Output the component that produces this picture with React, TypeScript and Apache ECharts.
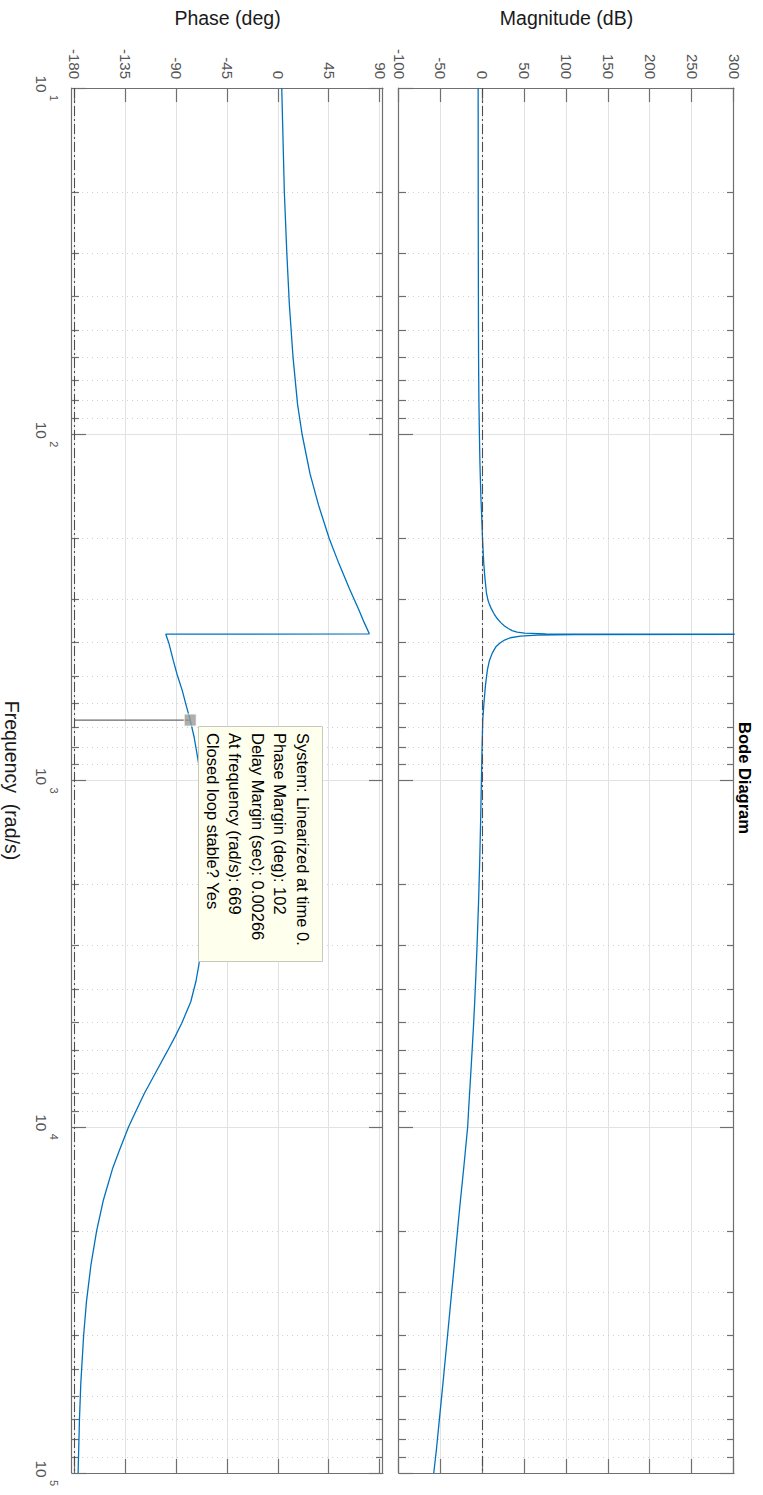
import React, { useEffect, useRef } from "react";
import * as echarts from "echarts";

// ---- data -----------------------------------------------------------------
const magFreq = [
  10, 20, 30, 40, 50, 60, 70, 80, 100, 120, 150, 172, 200, 236, 260, 287, 300,
  310, 320, 330, 340, 350, 358, 364, 369, 373, 375.5, 377, 378, 379, 380.5,
  383, 387, 393, 400, 410, 428, 450, 480, 532, 600, 669, 800, 1000, 1300,
  1700, 2244, 3000, 3600, 4355, 5200, 6200, 7500, 8700, 10000, 13000, 16360,
  20000, 25000, 32000, 40000, 55000, 70500, 85000, 100000,
];
const magDb = [
  -5.5, -5.4, -5.3, -5.2, -5.1, -5.0, -4.8, -4.6, -4.0, -3.4, -2.3, -1.3,
  -0.3, 1.2, 2.6, 4.4, 6.0, 8.0, 10.5, 13.5, 17, 21.5, 26, 30.5, 35, 41, 50,
  75, 330, 110, 65, 45, 33, 26, 21, 16, 11.5, 8, 5.5, 3.2, 1.4, 0, -0.8, -1.6,
  -2.5, -3.6, -5.0, -6.8, -8.1, -9.6, -11.2, -13.0, -15.0, -16.6, -18.0,
  -22.5, -26.7, -30.2, -33.9, -38.2, -42.0, -47.5, -51.9, -55.2, -58.5,
];

const phaseFreq = [
  10, 20, 30, 42, 60, 82, 100, 130, 160, 200, 236, 280, 320, 350, 377, 378,
  400, 450, 494, 550, 600, 669, 750, 887, 1100, 1400, 1800, 2300, 3040, 3400,
  3800, 4355, 5024, 5500, 6030, 7020, 8000, 9000, 10000, 11730, 13150, 16360,
  20000, 25000, 32000, 40000, 55000, 70000, 100000,
];
const phaseDeg = [
  3, 5.3, 7.5, 9.7, 13, 17, 21, 28, 35.5, 45, 53.5, 63, 71, 76, 80.5,
  -99.6, -97, -93, -89.6, -85, -82, -78, -74.5, -70.7, -67.5, -65.5, -65,
  -66, -68.5, -70.3, -72.9, -77.5, -85.5, -91.5, -98, -109, -118.5, -126,
  -132.5, -140.8, -146.5, -155, -160.8, -165.8, -169.8, -172.3, -174.8, -176,
  -177.2,
];

const freqRange = [10, 100000];
const magRange = [-100, 300];
const phaseRange = [-182.6, 92.6];

const decadeTicks = [10, 100, 1000, 10000, 100000];
const minorFreqTicks = [
  20, 30, 40, 50, 60, 70, 80, 90,
  200, 300, 400, 500, 600, 700, 800, 900,
  2000, 3000, 4000, 5000, 6000, 7000, 8000, 9000,
  20000, 30000, 40000, 50000, 60000, 70000, 80000, 90000,
];
const magTicks = [-100, -50, 0, 50, 100, 150, 200, 250, 300];
const phaseTicks = [-180, -135, -90, -45, 0, 45, 90];

const unityGainDb = [0];
const criticalPhase = [-180];

// stability margin read-out
const marginFrequency = 669;
const phaseMarginDeg = 102;
const delayMarginSec = 0.00266;
const systemName = "Linearized at time 0.";
const closedLoopStable = "Yes";

// ---- styling --------------------------------------------------------------
const FONT = "'Liberation Sans', Arial, Helvetica, sans-serif";
const BOX = "#6f6f6f";
const GRID_MAJOR = "#e2e2e2";
const GRID_MINOR = "#d0d0d0";
const LINE_BLUE = "#0072bd";
const TICK_TEXT = "#555555";

const zip = (xs: number[], ys: number[]) => xs.map((x, i) => [x, ys[i]]);

function freqAxis(
  gridIndex: number,
  position: "top" | "bottom",
  ticks: number[],
  tickLen: number,
  showLine: boolean,
  split: any,
  label: any = { show: false },
  nameOpts: any = {}
) {
  return {
    type: "log",
    logBase: 10,
    gridIndex,
    position,
    min: freqRange[0],
    max: freqRange[1],
    axisLine: { show: showLine, onZero: false, lineStyle: { color: BOX, width: 1.2 } },
    axisTick: {
      show: true,
      inside: true,
      length: tickLen,
      customValues: ticks,
      lineStyle: { color: BOX, width: 1.2 },
    },
    axisLabel: label,
    splitLine: split,
    minorTick: { show: false },
    minorSplitLine: { show: false },
    ...nameOpts,
  };
}

function valueAxis(
  gridIndex: number,
  position: "left" | "right",
  range: number[],
  ticks: number[],
  withLabels: boolean,
  name: string
) {
  return {
    type: "value",
    gridIndex,
    position,
    min: range[0],
    max: range[1],
    name: withLabels ? name : "",
    nameLocation: "middle",
    nameRotate: 90,
    nameGap: 60,
    nameTextStyle: { fontFamily: FONT, fontSize: 19.5, color: "#1a1a1a" },
    axisLine: { show: true, onZero: false, lineStyle: { color: BOX, width: 1.2 } },
    axisTick: {
      show: true,
      inside: true,
      length: 14,
      customValues: ticks,
      lineStyle: { color: BOX, width: 1.2 },
    },
    axisLabel: withLabels
      ? {
          show: true,
          customValues: ticks,
          margin: 9,
          fontFamily: FONT,
          fontSize: 15,
          color: TICK_TEXT,
          showMinLabel: true,
          showMaxLabel: true,
          hideOverlap: false,
        }
      : { show: false },
    splitLine: withLabels
      ? { show: true, lineStyle: { color: GRID_MAJOR, width: 1 } }
      : { show: false },
  };
}

const majorSplit = { show: true, lineStyle: { color: GRID_MAJOR, width: 1 } };
const minorSplit = { show: true, lineStyle: { color: GRID_MINOR, width: 1, type: [1, 4] } };

const decadeLabel = {
  show: true,
  customValues: decadeTicks,
  margin: 14,
  showMinLabel: true,
  showMaxLabel: true,
  hideOverlap: false,
  formatter: (v: number) => `{s|${Math.round(Math.log10(v))}}\n{b|10}`,
  rich: {
    b: { fontFamily: FONT, fontSize: 15.5, color: TICK_TEXT, lineHeight: 16, padding: [0, 8, 0, 0] },
    s: { fontFamily: FONT, fontSize: 11, color: TICK_TEXT, lineHeight: 9, padding: [0, 0, 0, 20] },
  },
};

function refLine(value: number) {
  return {
    silent: true,
    symbol: ["none", "none"],
    label: { show: false },
    lineStyle: { color: "#4d4d4d", width: 1.1, type: [10, 3, 2, 3] },
    emphasis: { disabled: true },
    data: [{ yAxis: value }],
  };
}

const tipText = [
  `System: ${systemName}`,
  `Phase Margin (deg): ${phaseMarginDeg}`,
  `Delay Margin (sec): ${delayMarginSec}`,
  `At frequency (rad/s): ${marginFrequency}`,
  `Closed loop stable? ${closedLoopStable}`,
].join("\n");

const marginPhase = criticalPhase[0] + phaseMarginDeg;

const option: any = {
  animation: false,
  backgroundColor: "#ffffff",
  textStyle: { fontFamily: FONT },
  grid: [
    { left: 83, top: 29, width: 1390, height: 335, containLabel: false },
    { left: 83, top: 380, width: 1390, height: 311, containLabel: false },
  ],
  xAxis: [
    freqAxis(0, "bottom", decadeTicks, 14, true, majorSplit),
    freqAxis(0, "bottom", minorFreqTicks, 7, false, minorSplit),
    freqAxis(0, "top", decadeTicks, 14, true, { show: false }),
    freqAxis(0, "top", minorFreqTicks, 7, false, { show: false }),
    freqAxis(1, "bottom", decadeTicks, 14, true, majorSplit, decadeLabel, {
      name: "Frequency  (rad/s)",
      nameLocation: "middle",
      nameGap: 50,
      nameTextStyle: { fontFamily: FONT, fontSize: 19.5, color: "#1a1a1a" },
    }),
    freqAxis(1, "bottom", minorFreqTicks, 7, false, minorSplit),
    freqAxis(1, "top", decadeTicks, 14, true, { show: false }),
    freqAxis(1, "top", minorFreqTicks, 7, false, { show: false }),
  ],
  yAxis: [
    valueAxis(0, "left", magRange, magTicks, true, "Magnitude (dB)"),
    valueAxis(0, "right", magRange, magTicks, false, ""),
    valueAxis(1, "left", phaseRange, phaseTicks, true, "Phase (deg)"),
    valueAxis(1, "right", phaseRange, phaseTicks, false, ""),
  ],
  series: [
    {
      type: "line",
      name: "Magnitude",
      xAxisIndex: 0,
      yAxisIndex: 0,
      data: zip(magFreq, magDb),
      showSymbol: false,
      clip: true,
      lineStyle: { color: LINE_BLUE, width: 1.3 },
      markLine: refLine(unityGainDb[0]),
      z: 3,
    },
    {
      type: "line",
      name: "Phase",
      xAxisIndex: 4,
      yAxisIndex: 2,
      data: zip(phaseFreq, phaseDeg),
      showSymbol: false,
      clip: true,
      lineStyle: { color: LINE_BLUE, width: 1.3 },
      markLine: refLine(criticalPhase[0]),
      z: 3,
    },
    {
      type: "line",
      name: "Phase margin",
      xAxisIndex: 4,
      yAxisIndex: 2,
      data: [
        [marginFrequency, criticalPhase[0]],
        [marginFrequency, marginPhase],
      ],
      showSymbol: false,
      lineStyle: { color: "#6a6a6a", width: 1.2 },
      z: 4,
    },
    {
      type: "scatter",
      name: "Margin point",
      xAxisIndex: 4,
      yAxisIndex: 2,
      data: [[marginFrequency, marginPhase]],
      symbol: "rect",
      symbolSize: 12,
      itemStyle: { color: "#9a9a9a", borderColor: "#fffff0", borderWidth: 1 },
      z: 6,
    },
  ],
  graphic: [
    {
      type: "text",
      z: 100,
      x: 778,
      y: 18,
      style: {
        text: "Bode Diagram",
        fontFamily: FONT,
        fontSize: 16.5,
        fontWeight: "bold",
        fill: "#000000",
        align: "center",
        verticalAlign: "middle",
      },
    },
    {
      type: "rect",
      z: 100,
      shape: { x: 726.5, y: 440.5, width: 235, height: 124 },
      style: { fill: "#ffffed", stroke: "#c8c8bc", lineWidth: 1 },
    },
    {
      type: "text",
      z: 101,
      x: 733,
      y: 449,
      style: {
        text: tipText,
        fontFamily: FONT,
        fontSize: 16.5,
        lineHeight: 22.5,
        fill: "#000000",
        align: "left",
        verticalAlign: "top",
      },
    },
  ],
};

export default function App() {
  const ref = useRef<HTMLDivElement>(null);
  useEffect(() => {
    if (!ref.current) return;
    const chart = echarts.init(ref.current, undefined, { renderer: "svg" });
    chart.setOption(option);
    return () => chart.dispose();
  }, []);
  return (
    <div
      style={{
        position: "absolute",
        left: 0,
        top: 0,
        width: 763,
        height: 1495,
        overflow: "hidden",
        background: "#ffffff",
      }}
    >
      <div
        ref={ref}
        style={{
          position: "absolute",
          left: 0,
          top: 0,
          width: 1495,
          height: 763,
          transformOrigin: "0 0",
          transform: "translate(763px, 0) rotate(90deg)",
        }}
      />
    </div>
  );
}
